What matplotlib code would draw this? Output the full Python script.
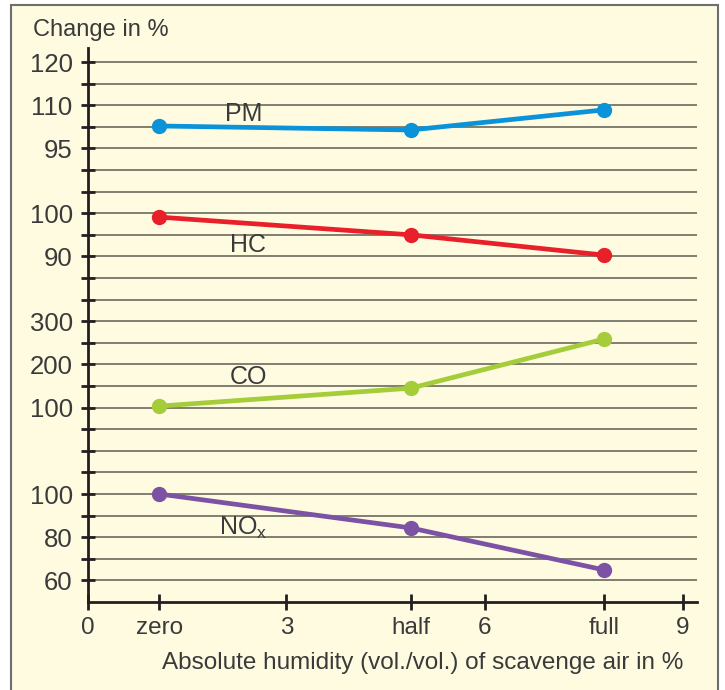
import numpy as np
import matplotlib
matplotlib.use("Agg")
import matplotlib.pyplot as plt

plt.rcParams['font.family'] = ['Liberation Sans', 'DejaVu Sans']

# humidity levels on the x axis
levels = ["zero", "half", "full"]
level_x = [1.08, 4.88, 7.81]

# change in % for each emission
pm = [102.8, 101.4, 108.4]
hc = [99.1, 95.0, 90.3]
co = [103.5, 145.0, 259.0]
nox = [100.5, 84.3, 64.8]

# each panel: tick values and the grid row they sit on
pm_ticks = [95, 110, 120]
pm_rows = [21, 23, 25]
hc_ticks = [90, 100]
hc_rows = [16, 18]
co_ticks = [100, 200, 300]
co_rows = [9, 11, 13]
nox_ticks = [60, 80, 100]
nox_rows = [1, 3, 5]

x_ticks = [0, 3, 6, 9]

bg = "#fefbe1"
ink = "#231f20"
txt = "#3a3a3a"

fig = plt.figure(figsize=(7.25, 6.9), dpi=100)
fig.patch.set_facecolor("white")
# framed cream panel
frame = plt.Rectangle((11 / 725, -0.01), (718 - 11) / 725, 1 - 5 / 690 + 0.01,
                      transform=fig.transFigure, facecolor=bg, edgecolor="#6e6e6e",
                      linewidth=1.5, zorder=-5)
fig.patches.append(frame)

ax = fig.add_axes([88 / 725, 1 - 602 / 690, (697 - 88) / 725, (602 - 48) / 690])
ax.set_zorder(2)
ax.set_facecolor("none")
ax.set_xlim(0, 9.21)
ax.set_ylim(0, 25.65)

# horizontal rules
for k in range(1, 26):
    ax.axhline(k, color="#6b6a5c", lw=1.2, zorder=1)

series = [
    (pm, pm_ticks, pm_rows, "#0a93d8", "PM", 2.35, 22.6),
    (hc, hc_ticks, hc_rows, "#e8202a", "HC", 2.42, 16.55),
    (co, co_ticks, co_rows, "#a4cd39", "CO", 2.42, 10.4),
    (nox, nox_ticks, nox_rows, "#7b52a4", "NO$_{\\mathregular{x}}$", 2.35, 3.45),
]
for vals, tv, tr, col, name, lx, ly in series:
    rows = np.interp(vals, tv, tr)
    ax.plot(level_x, rows, color=col, lw=3.4, marker="o", ms=10, zorder=3,
            solid_capstyle="butt")
    ax.text(lx, ly, name, fontsize=18, color=txt, ha="center", va="center")

# y ticks on every rule, labels where given
ytick_pos = list(range(1, 26))
labels = {}
for tv, tr in [(pm_ticks, pm_rows), (hc_ticks, hc_rows), (co_ticks, co_rows), (nox_ticks, nox_rows)]:
    for v, r in zip(tv, tr):
        labels[r] = str(v)
ax.set_yticks(ytick_pos)
ax.set_yticklabels([labels.get(k, "") for k in ytick_pos])
ax.tick_params(axis="y", direction="inout", length=10, width=2, color=ink,
               labelsize=18.5, labelcolor=txt, pad=6)

xt = x_ticks + level_x
xl = [str(v) for v in x_ticks] + levels
ax.set_xticks(xt)
ax.set_xticklabels(xl)
ax.tick_params(axis="x", direction="inout", length=12, width=2, color=ink,
               labelsize=17.5, labelcolor=txt, pad=5)

for s in ["top", "right"]:
    ax.spines[s].set_visible(False)
for s in ["left", "bottom"]:
    ax.spines[s].set_linewidth(2)
    ax.spines[s].set_color(ink)

fig.text(33 / 725, 1 - 30 / 690, "Change in %", fontsize=17, color=txt,
         ha="left", va="center")
fig.text(423 / 725, 1 - 663 / 690, "Absolute humidity (vol./vol.) of scavenge air in %",
         fontsize=17.5, color=txt, ha="center", va="center")

fig.savefig("out.png", dpi=100, facecolor=fig.get_facecolor())
